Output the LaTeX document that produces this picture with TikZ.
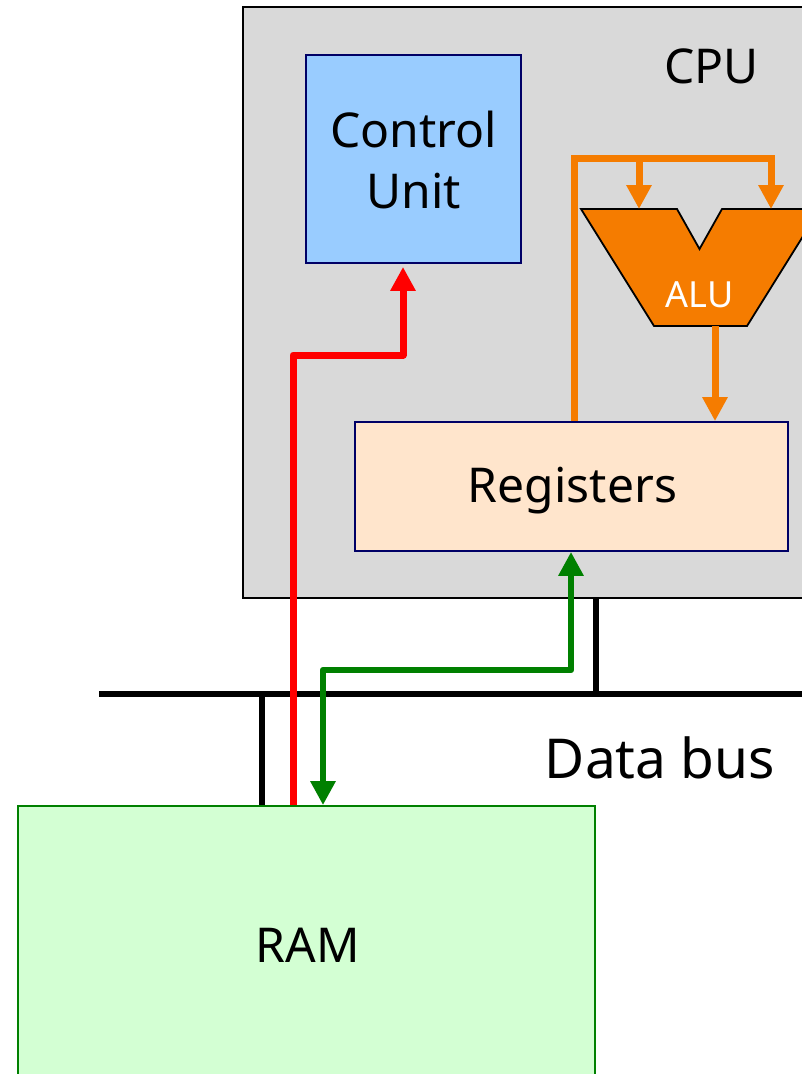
\documentclass[tikz,border=0pt]{standalone}
\usepackage{fontspec}
\setmainfont{Noto Sans}
\usetikzlibrary{arrows.meta}
\definecolor{cpugray}{HTML}{D9D9D9}
\definecolor{cublue}{HTML}{99CCFF}
\definecolor{regpeach}{HTML}{FFE5CC}
\definecolor{ramgreen}{HTML}{D3FFD3}
\definecolor{navyline}{HTML}{000066}
\definecolor{aluorange}{HTML}{F57C00}
\definecolor{pathgreen}{HTML}{008000}
\begin{document}
\begin{tikzpicture}[x=1pt,y=-1pt,
  box/.style={draw, rectangle, inner sep=0pt, line width=1.8pt},
  lbl/.style={font=\fontsize{48}{56}\selectfont, inner sep=0pt, anchor=base},
  tipend/.style={-{Triangle[length=24pt,width=24pt]}},
  orangeline/.style={draw=aluorange, line width=7pt, line join=miter},
  redline/.style={draw=red, line width=7pt, line join=round},
  greenline/.style={draw=pathgreen, line width=6.5pt, line join=round},
  busline/.style={draw=black, line width=6.5pt}
]
\clip (0,0) rectangle (802,1074);
\fill[white] (0,0) rectangle (802,1074);
% boxes
\node[box, fill=cpugray, draw=black, minimum width=587pt, minimum height=591pt] (cpu) at (536.5,302.5) {};
\node[box, fill=cublue, draw=navyline, minimum width=215pt, minimum height=208pt] (cu) at (413.5,159) {};
\node[box, fill=regpeach, draw=navyline, minimum width=433pt, minimum height=129pt] (reg) at (571.5,486.5) {};
\node[box, fill=ramgreen, draw=pathgreen, minimum width=577pt, minimum height=276pt] (ram) at (306.5,944) {};
% ALU
\filldraw[fill=aluorange, draw=black, line width=1.8pt, line join=miter]
  (581,209) -- (677,209) -- (699.5,249) -- (722,209) -- (820,209) -- (747,326) -- (654,326) -- cycle;
% labels
\node[lbl] (cpulbl) at (711.5,83) {CPU};
\node[lbl] (culbl1) at (413.5,147) {Control};
\node[lbl] (culbl2) at (413.5,208) {Unit};
\node[lbl] (reglbl) at (572.5,502) {Registers};
\node[lbl] (ramlbl) at (308,962) {RAM};
\node[lbl, font=\fontsize{55}{62}\selectfont] (buslbl) at (660,778) {Data bus};
\node[lbl, font=\fontsize{36}{42}\selectfont, text=white] (alu) at (699.5,307) {ALU};
% coordinates
\coordinate (fbcorner) at (574,158);
\coordinate (fbright) at (771,158);
\coordinate (aluinA) at (639,209);
\coordinate (aluinB) at (771,209);
\coordinate (aluout) at (715,326);
\coordinate (r1) at (293,355);
\coordinate (r2) at (403,355);
\coordinate (g1) at (323,670);
\coordinate (g2) at (571,670);
\coordinate (busL) at (99,694);
\coordinate (busR) at (812,694);
\coordinate (cpub) at (596,694);
\coordinate (ramb) at (262,694);
% bus
\draw[busline] (busL) -- (busR);
\draw[busline] (cpu.south -| cpub) -- (cpub);
\draw[busline] (ramb) -- (ram.north -| ramb);
% orange ALU paths
\draw[orangeline, tipend] (reg.north -| fbcorner) -- (fbcorner) -- (fbright) -- (aluinB);
\draw[orangeline, tipend] (aluinA |- fbcorner) -- (aluinA);
\draw[orangeline, tipend] (aluout) -- (reg.north -| aluout);
% red control path
\draw[redline, tipend, shorten >=3pt] (ram.north -| r1) -- (r1) -- (r2) -- (cu.south -| r2);
% green data path
\draw[greenline, {Triangle[length=24pt,width=24pt]}-{Triangle[length=24pt,width=24pt]}] (ram.north -| g1) -- (g1) -- (g2) -- (reg.south -| g2);
\end{tikzpicture}
\end{document}
